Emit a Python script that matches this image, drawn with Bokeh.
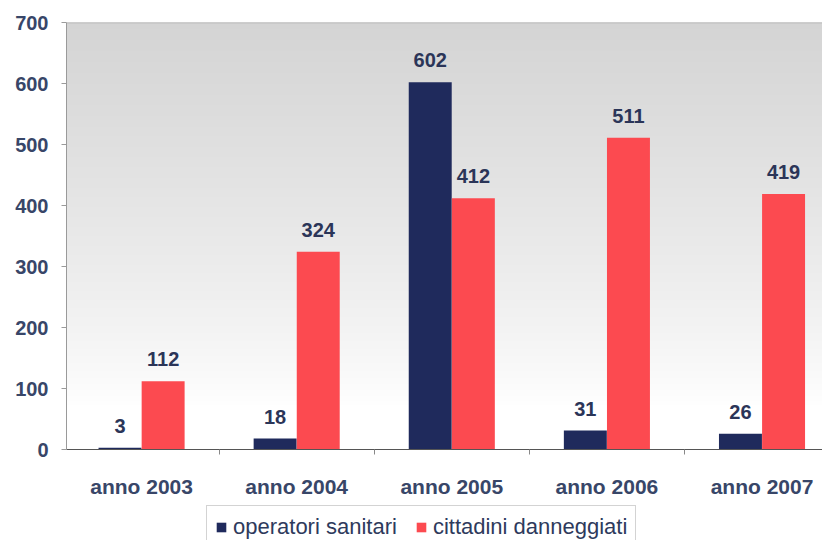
import numpy as np
from bokeh.plotting import figure
from bokeh.layouts import column
from bokeh.models import (Range1d, FixedTicker, ColumnDataSource, Legend, LegendItem,
                          Span, LabelSet)
from bokeh.transform import dodge
from bokeh.core.properties import value
from bokeh.embed import file_html
from bokeh.resources import INLINE

# ---- data ----
years = ["anno 2003", "anno 2004", "anno 2005", "anno 2006", "anno 2007"]
operatori = [3, 18, 602, 31, 26]
cittadini = [112, 324, 412, 511, 419]
series_names = ["operatori sanitari", "cittadini danneggiati"]
y_ticks = [0, 100, 200, 300, 400, 500, 600, 700]

NAVY = "#1f2a5c"
RED = "#fc4a50"
TXT = "#384668"
FONT = "Liberation Sans"

xs = list(range(len(years)))
src = ColumnDataSource(dict(
    x=xs, op=operatori, ci=cittadini,
    op_lbl=[str(v) for v in operatori], ci_lbl=[str(v) for v in cittadini],
))

x_start, x_end = -0.484, 4.39
p = figure(width=822, height=500, x_range=Range1d(x_start, x_end),
           y_range=Range1d(0, 700), output_backend="svg", toolbar_location=None,
           min_border_left=66, min_border_top=22, min_border_right=0,
           min_border_bottom=48)
p.background_fill_color = "white"
p.border_fill_color = "white"
p.outline_line_color = None
p.xgrid.visible = False
p.ygrid.visible = False

# gradient background (grey top -> white bottom)
n = 350
img = np.zeros((n, 1), dtype=np.uint32)
view = img.view(dtype=np.uint8).reshape((n, 1, 4))
for i in range(n):
    t = i / (n - 1)  # 0 bottom, 1 top
    g = 255 - 43 * max(0.0, (t - 0.1) / 0.9) ** 0.8
    g = int(round(g))
    view[i, 0, :] = [g, g, g, 255]
p.image_rgba(image=[img], x=x_start, y=0, dw=x_end - x_start, dh=700)

w = 0.277
off = 0.139
r_op = p.vbar(x=dodge("x", -off, range=p.x_range), top="op", width=w, source=src,
              fill_color=NAVY, line_color=None)
r_ci = p.vbar(x=dodge("x", off, range=p.x_range), top="ci", width=w, source=src,
              fill_color=RED, line_color=None)

for col, lbl, o in (("op", "op_lbl", -off), ("ci", "ci_lbl", off)):
    ls = LabelSet(x=dodge("x", o, range=p.x_range), y=col, text=lbl, source=src,
                  y_offset=15, text_align="center", text_baseline="alphabetic",
                  text_font=value(FONT), text_font_style="bold", text_font_size="20px",
                  text_color="#2b3558")
    p.add_layout(ls)

p.add_layout(Span(location=700, dimension="width", line_color="#a6a6a6", line_width=1.5))

# y axis
p.yaxis.ticker = FixedTicker(ticks=y_ticks)
p.yaxis.major_tick_out = 5
p.yaxis.major_tick_in = 0
p.yaxis.minor_tick_out = 0
p.yaxis.minor_tick_in = 0
p.yaxis.axis_line_color = "#9a9a9a"
p.yaxis.major_tick_line_color = "#9a9a9a"
p.yaxis.major_label_standoff = 13
p.yaxis.major_label_text_font = FONT
p.yaxis.major_label_text_font_style = "bold"
p.yaxis.major_label_text_font_size = "20px"
p.yaxis.major_label_text_color = TXT

# x axis
p.xaxis.ticker = FixedTicker(ticks=xs, minor_ticks=[0.5, 1.5, 2.5, 3.5])
p.xaxis.major_label_overrides = {i: y for i, y in enumerate(years)}
p.xaxis.major_tick_out = 0
p.xaxis.major_tick_in = 0
p.xaxis.minor_tick_out = 5
p.xaxis.minor_tick_in = 0
p.xaxis.axis_line_color = "#555555"
p.xaxis.minor_tick_line_color = "#888888"
p.xaxis.major_label_standoff = 20
p.xaxis.major_label_text_font = FONT
p.xaxis.major_label_text_font_style = "bold"
p.xaxis.major_label_text_font_size = "21px"
p.xaxis.major_label_text_color = TXT

# ---- legend strip below the chart ----
lf = figure(width=822, height=40, x_range=Range1d(0, 1), y_range=Range1d(0, 1),
            output_backend="svg", toolbar_location=None,
            min_border_left=0, min_border_right=0, min_border_top=0, min_border_bottom=0)
lf.axis.visible = False
lf.grid.visible = False
lf.outline_line_color = None
lf.background_fill_color = "white"
lf.border_fill_color = "white"
# off-screen proxy glyphs so the legend can show the series swatches
proxy = ColumnDataSource(dict(x=[5], top=[5]))
l_op = lf.vbar(x="x", top="top", width=0.1, source=proxy, fill_color=NAVY, line_color=None)
l_ci = lf.vbar(x="x", top="top", width=0.1, source=proxy, fill_color=RED, line_color=None)

legend = Legend(items=[LegendItem(label=series_names[0], renderers=[l_op]),
                       LegendItem(label=series_names[1], renderers=[l_ci])],
                orientation="horizontal", location=(140, -9))
legend.label_text_font = FONT
legend.label_text_font_size = "22px"
legend.label_text_color = "#2e3a5c"
legend.glyph_width = 12
legend.glyph_height = 12
legend.label_standoff = 6
legend.spacing = 18
legend.padding = 8
legend.margin = 0
legend.border_line_color = "#a8a8a8"
legend.background_fill_color = "white"
legend.background_fill_alpha = 1
lf.add_layout(legend, "center")

layout = column(p, lf, spacing=0)
open("out.html", "w").write(file_html(layout, INLINE))
